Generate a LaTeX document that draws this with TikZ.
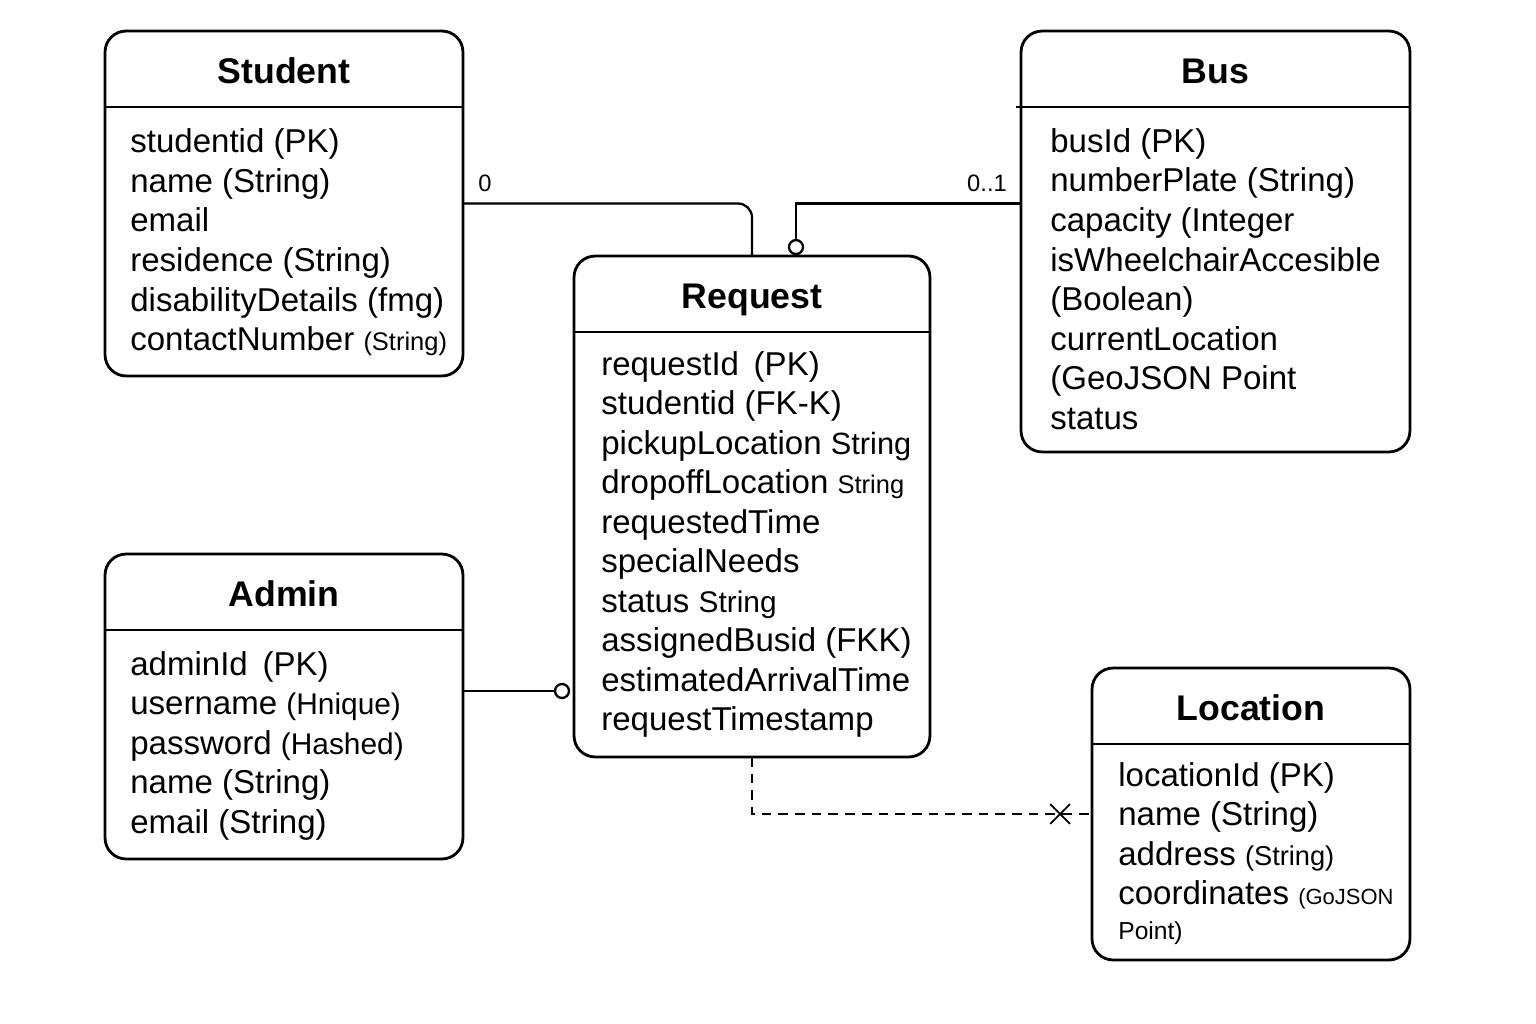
\documentclass[tikz,border=0pt]{standalone}
\usepackage{fontspec}
\setmainfont{Liberation Sans}
\usepackage{tikz}
\usetikzlibrary{shapes.misc}
\newcommand{\fsz}[2]{{\fontsize{#1}{#1}\selectfont #2}}% smaller type inside a line

\begin{document}
\begin{tikzpicture}[
		x=0.02cm, y=-0.02cm,
		ent/.style = {rectangle, draw, line width=1.6pt, rounded corners=12pt,
			inner sep=0pt, outer sep=0pt},% entity boxes
		hdr/.style = {line width=1.4pt},
		ttl/.style = {anchor=base, inner sep=0pt,
			font=\fontsize{20.3}{24}\selectfont\bfseries},
		att/.style = {anchor=base west, inner sep=0pt,
			font=\fontsize{18.8}{22}\selectfont},
		lbl/.style = {inner sep=0pt, font=\fontsize{13.5}{16}\selectfont},
		link/.style = {line width=1.3pt},
		ring/.style = {circle, draw, line width=1.3pt, fill=white,
			inner sep=0pt, minimum size=0.28cm},
		]
		\fill[white] (0,0) rectangle (1536,1024);
		\useasboundingbox (0,0) rectangle (1536,1024);
		% Student
		\node[ent, minimum width=7.16cm, minimum height=6.9cm] (S) at (284,203.5) {};
		\draw[hdr] ([yshift=-1.52cm]S.north west) -- ([yshift=-1.52cm]S.north east);
		\node[ttl] (S-t) at ([yshift=-1.04cm]S.north) {Student};
		\foreach \a [count=\i] in {{studentid (PK)},{name (String)},{email},
			{residence (String)},{disabilityDetails (fmg)},
			{contactNumber \fsz{14.5}{(String)}}}
		\node[att] (S-\i) at (130,{153+39.5*(\i-1)}) {\a};
		% Bus
		\node[ent, minimum width=7.78cm, minimum height=8.42cm] (B) at (1215.5,241.5) {};
		\draw[hdr] ([xshift=-0.1cm, yshift=-1.52cm]B.north west) -- ([yshift=-1.52cm]B.north east);
		\node[ttl] (B-t) at ([yshift=-1.04cm]B.north) {Bus};
		\foreach \a [count=\i] in {{busId (PK)},{numberPlate (String)},{capacity (Integer},
			{isWheelchairAccesible},{(Boolean)},{currentLocation},
			{(GeoJSON Point},{status}}
		\node[att] (B-\i) at (1050,{152.5+39.5*(\i-1)}) {\a};
		% Request
		\node[ent, minimum width=7.12cm, minimum height=10.02cm] (R) at (752,506.5) {};
		\draw[hdr] ([yshift=-1.52cm]R.north west) -- ([yshift=-1.52cm]R.north east);
		\node[ttl] (R-t) at ([yshift=-1.04cm]R.north) {Request};
		\foreach \a [count=\i] in {{requestId\, (PK)},{studentid (FK-K)},
			{pickupLocation \fsz{17.5}{String}},{dropoffLocation \fsz{14.5}{String}},
			{requestedTime},{specialNeeds},{status \fsz{17}{String}},
			{assignedBusid (FKK)},{estimatedArrivalTime},{requestTimestamp}}
		\node[att] (R-\i) at (601,{375+39.5*(\i-1)}) {\a};
		% Admin
		\node[ent, minimum width=7.16cm, minimum height=6.1cm] (A) at (284,706.5) {};
		\draw[hdr] ([yshift=-1.52cm]A.north west) -- ([yshift=-1.52cm]A.north east);
		\node[ttl] (A-t) at ([yshift=-1.04cm]A.north) {Admin};
		\foreach \a [count=\i] in {{adminId\, (PK)},{username \fsz{17}{(Hnique)}},
			{password \fsz{17}{(Hashed)}},{name (String)},{email (String)}}
		\node[att] (A-\i) at (130,{675+39.5*(\i-1)}) {\a};
		% Location
		\node[ent, minimum width=6.36cm, minimum height=5.84cm] (L) at (1251,814) {};
		\draw[hdr] ([yshift=-1.52cm]L.north west) -- ([yshift=-1.52cm]L.north east);
		\node[ttl] (L-t) at ([yshift=-1.04cm]L.north) {Location};
		\foreach \a [count=\i] in {{locationId (PK)},{name (String)},
			{address \fsz{15.5}{(String)}},{coordinates \fsz{12.5}{(GoJSON}}}
		\node[att] (L-\i) at (1118,{786+39.5*(\i-1)}) {\a};
		\node[att] (L-5) at (1118,939) {\fsz{14}{Point)}};
		% links
		\node[ring] (rb) at ([xshift=0.88cm, yshift=0.18cm]R.north) {};
		\node[ring] (ra) at (562,691) {};
		\draw[link, rounded corners=8pt] (S.east) -| (R.north);
		\draw[link] (B.west |- S.east) -| (rb.north);
		\draw[link] (A.east |- ra) -- (ra.west);
		\draw[link, dash pattern=on 5.5pt off 4pt] (R.south) |- (L.west);
		\node[cross out, draw, line width=1pt, minimum size=0.36cm, inner sep=0pt]
			(xm) at ([xshift=-0.64cm]L.west) {};
		\node[lbl] (m0) at (485,183) {0};
		\node[lbl] (m01) at (987,183) {0..1};
	\end{tikzpicture}
\end{document}
